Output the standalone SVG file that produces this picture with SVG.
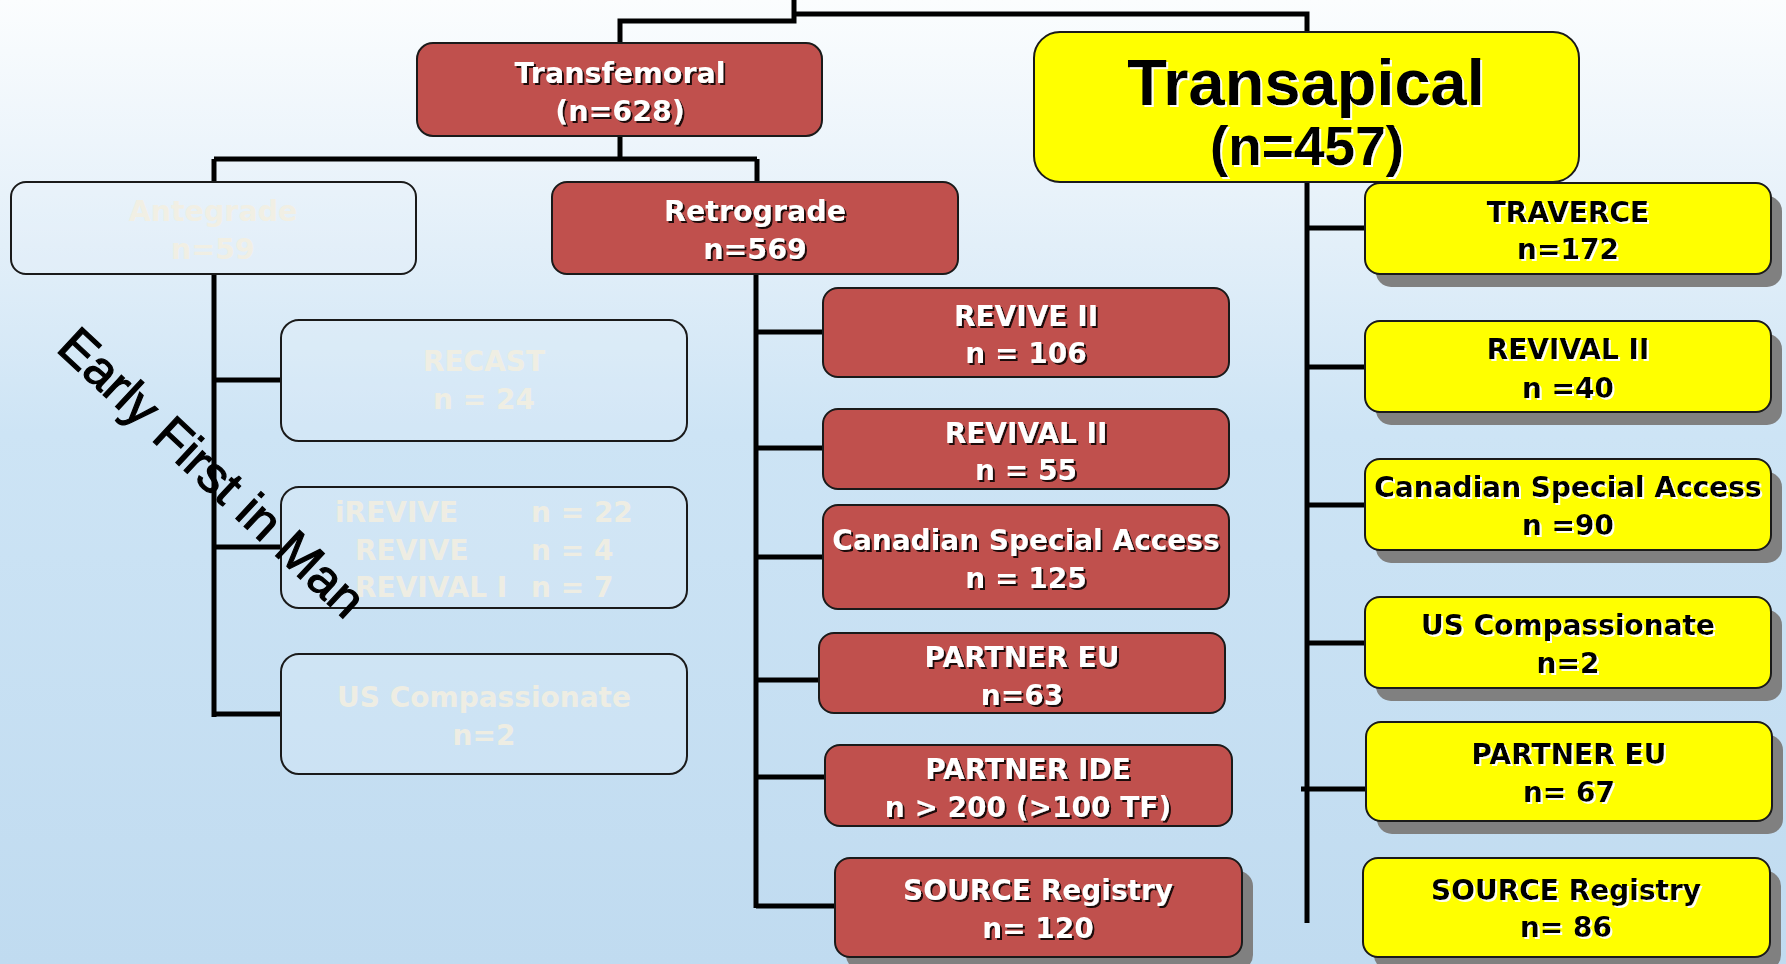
<svg xmlns="http://www.w3.org/2000/svg" width="1786" height="964" viewBox="0 0 1786 964">
<defs>
<linearGradient id="bg" x1="0" y1="0" x2="0" y2="1">
<stop offset="0" stop-color="#FBFDFE"/>
<stop offset="0.2" stop-color="#E8F2FA"/>
<stop offset="0.45" stop-color="#CDE4F5"/>
<stop offset="1" stop-color="#C0DBF0"/>
</linearGradient>
<filter id="tsd" x="-5%" y="-20%" width="110%" height="140%"><feDropShadow dx="2" dy="2" stdDeviation="0.4" flood-color="#000" flood-opacity="0.85"/></filter>
<filter id="tsl" x="-5%" y="-20%" width="110%" height="140%"><feDropShadow dx="2" dy="2" stdDeviation="0.4" flood-color="#fff" flood-opacity="0.95"/></filter>
</defs>
<style>
.red{fill:#C0504D;stroke:#1a1a1a;stroke-width:2}
.yel{fill:#FFFF00;stroke:#1a1a1a;stroke-width:2}
.ghost{fill:#E8F3FB;fill-opacity:0.22;stroke:#1a1a1a;stroke-width:2}
.shd{fill:#808080}
.t{font-family:"DejaVu Sans",Verdana,sans-serif;font-weight:bold;font-size:28px;text-anchor:middle}
.tw{fill:#ffffff;filter:url(#tsd)}
.tb{fill:#000000;filter:url(#tsl)}
.tg{fill:#F3EFE1;fill-opacity:0.9}
.big{font-family:"Liberation Sans",Arial,sans-serif;font-weight:bold;text-anchor:middle;fill:#000;filter:url(#tsl)}
.conn{fill:none;stroke:#000;stroke-width:5}
</style>
<rect x="0" y="0" width="1786" height="964" fill="url(#bg)"/>
<g id="connectors" class="conn">
<path d="M794,0 V21 H620 V43"/>
<path d="M794,14 H1307 V32"/>
<path d="M620,136 V159"/>
<path d="M214,159 H757"/>
<path d="M214,159 V182"/>
<path d="M757,159 V182"/>
<path d="M214,274 V717"/>
<path d="M214,380 H281"/>
<path d="M214,547 H281"/>
<path d="M214,714 H281"/>
<path d="M756,274 V908"/>
<path d="M756,332 H823"/>
<path d="M756,448 H823"/>
<path d="M756,557 H823"/>
<path d="M756,680 H819"/>
<path d="M756,777 H825"/>
<path d="M756,906 H835"/>
<path d="M1307,182 V923"/>
<path d="M1307,228 H1365"/>
<path d="M1307,367 H1365"/>
<path d="M1307,505 H1365"/>
<path d="M1307,643 H1365"/>
<path d="M1301,789 H1366"/>
</g>
<g id="transfemoral">
<rect class="red" x="417" y="43" width="405" height="93" rx="16"/>
<text class="t tw" x="620" y="83" style="font-size:28.5px">Transfemoral</text>
<text class="t tw" x="620" y="121" style="font-size:28.5px">(n=628)</text>
</g>
<g id="transapical">
<rect class="yel" x="1034" y="32" width="545" height="150" rx="26"/>
<text class="big" x="1306" y="105" font-size="65">Transapical</text>
<text class="big" x="1307" y="165" font-size="55">(n=457)</text>
</g>
<g id="antegrade">
<rect class="ghost" x="11" y="182" width="405" height="92" rx="15"/>
<text class="t tg" x="213" y="221" style="font-size:28.5px">Antegrade</text>
<text class="t tg" x="213" y="259" style="font-size:28.5px">n=59</text>
</g>
<g id="retrograde">
<rect class="red" x="552" y="182" width="406" height="92" rx="15"/>
<text class="t tw" x="755" y="221" style="font-size:28.5px">Retrograde</text>
<text class="t tw" x="755" y="259" style="font-size:28.5px">n=569</text>
</g>
<g id="recast">
<rect class="ghost" x="281" y="320" width="406" height="121" rx="18"/>
<text class="t tg" x="484" y="371">RECAST</text>
<text class="t tg" x="484" y="409">n = 24</text>
</g>
<g id="irevive">
<rect class="ghost" x="281" y="487" width="406" height="121" rx="18"/>
<text class="t tg" x="335" y="522" style="text-anchor:start">iREVIVE</text>
<text class="t tg" x="531" y="522" style="text-anchor:start">n = 22</text>
<text class="t tg" x="355" y="560" style="text-anchor:start">REVIVE</text>
<text class="t tg" x="531" y="560" style="text-anchor:start">n = 4</text>
<text class="t tg" x="355" y="597" style="text-anchor:start">REVIVAL I</text>
<text class="t tg" x="531" y="597" style="text-anchor:start">n = 7</text>
</g>
<g id="us-compassionate-tf">
<rect class="ghost" x="281" y="654" width="406" height="120" rx="18"/>
<text class="t tg" x="484" y="707">US Compassionate</text>
<text class="t tg" x="484" y="745">n=2</text>
</g>
<g id="revive2">
<rect class="red" x="823" y="288" width="406" height="89" rx="15"/>
<text class="t tw" x="1026" y="326">REVIVE II</text>
<text class="t tw" x="1026" y="363">n = 106</text>
</g>
<g id="revival2-tf">
<rect class="red" x="823" y="409" width="406" height="80" rx="15"/>
<text class="t tw" x="1026" y="443">REVIVAL II</text>
<text class="t tw" x="1026" y="480">n = 55</text>
</g>
<g id="canadian-tf">
<rect class="red" x="823" y="505" width="406" height="104" rx="15"/>
<text class="t tw" x="1026" y="550">Canadian Special Access</text>
<text class="t tw" x="1026" y="588">n = 125</text>
</g>
<g id="partner-eu-tf">
<rect class="red" x="819" y="633" width="406" height="80" rx="15"/>
<text class="t tw" x="1022" y="667">PARTNER EU</text>
<text class="t tw" x="1022" y="705">n=63</text>
</g>
<g id="partner-ide">
<rect class="red" x="825" y="745" width="407" height="81" rx="15"/>
<text class="t tw" x="1028" y="779">PARTNER IDE</text>
<text class="t tw" x="1028" y="817">n &gt; 200 (&gt;100 TF)</text>
</g>
<g id="source-tf">
<rect class="shd" x="846" y="871" width="407" height="99" rx="15"/>
<rect class="red" x="835" y="858" width="407" height="99" rx="15"/>
<text class="t tw" x="1038" y="900">SOURCE Registry</text>
<text class="t tw" x="1038" y="938">n= 120</text>
</g>
<g id="traverce">
<rect class="shd" x="1376" y="196" width="406" height="91" rx="15"/>
<rect class="yel" x="1365" y="183" width="406" height="91" rx="15"/>
<text class="t tb" x="1568" y="222">TRAVERCE</text>
<text class="t tb" x="1568" y="259">n=172</text>
</g>
<g id="revival2-ta">
<rect class="shd" x="1376" y="334" width="406" height="91" rx="15"/>
<rect class="yel" x="1365" y="321" width="406" height="91" rx="15"/>
<text class="t tb" x="1568" y="359">REVIVAL II</text>
<text class="t tb" x="1568" y="398">n =40</text>
</g>
<g id="canadian-ta">
<rect class="shd" x="1376" y="472" width="406" height="91" rx="15"/>
<rect class="yel" x="1365" y="459" width="406" height="91" rx="15"/>
<text class="t tb" x="1568" y="497">Canadian Special Access</text>
<text class="t tb" x="1568" y="535">n =90</text>
</g>
<g id="us-compassionate-ta">
<rect class="shd" x="1376" y="610" width="406" height="91" rx="15"/>
<rect class="yel" x="1365" y="597" width="406" height="91" rx="15"/>
<text class="t tb" x="1568" y="635">US Compassionate</text>
<text class="t tb" x="1568" y="673">n=2</text>
</g>
<g id="partner-eu-ta">
<rect class="shd" x="1377" y="735" width="406" height="99" rx="15"/>
<rect class="yel" x="1366" y="722" width="406" height="99" rx="15"/>
<text class="t tb" x="1569" y="764">PARTNER EU</text>
<text class="t tb" x="1569" y="802">n= 67</text>
</g>
<g id="source-ta">
<rect class="shd" x="1374" y="871" width="407" height="99" rx="15"/>
<rect class="yel" x="1363" y="858" width="407" height="99" rx="15"/>
<text class="t tb" x="1566" y="900">SOURCE Registry</text>
<text class="t tb" x="1566" y="937">n= 86</text>
</g>
<g id="early-label">
<text x="55" y="350" transform="rotate(43 55 350)" font-family="'Liberation Sans',Arial,sans-serif" font-size="51" fill="#000" stroke="#000" stroke-width="1.2">Early First in Man</text>
</g>
</svg>
